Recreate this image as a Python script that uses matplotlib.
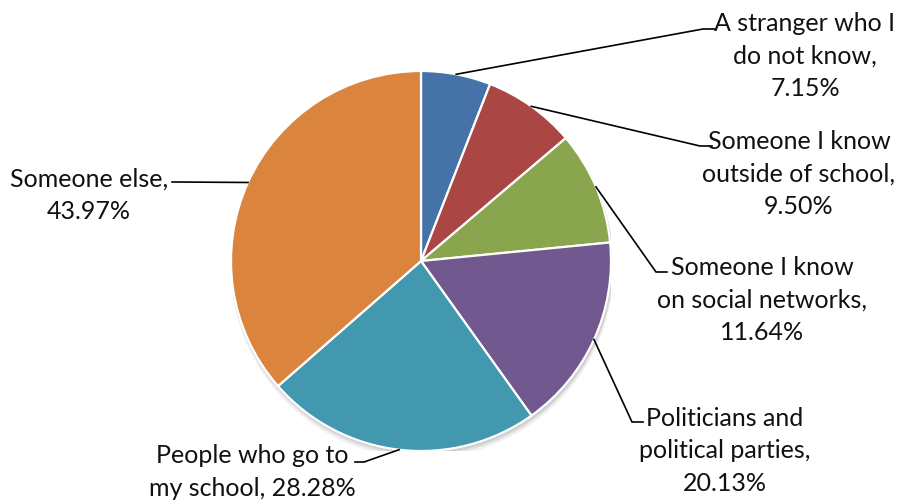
import matplotlib
matplotlib.use("Agg")
import numpy as np
import matplotlib.pyplot as plt
from matplotlib.patches import Circle

# Who the respondents talk to (shares as reported)
categories = [
    "A stranger who I\ndo not know",
    "Someone I know\noutside of school",
    "Someone I know\non social networks",
    "Politicians and\npolitical parties",
    "People who go to\nmy school",
    "Someone else",
]
values = [7.15, 9.50, 11.64, 20.13, 28.28, 43.97]
colors = ["#4572A7", "#AA4643", "#89A54E", "#71588F", "#4198AF", "#DB843D"]

# separator between category and value in each label
separators = [",\n", ",\n", ",\n", ",\n", ", ", ",\n"]

W, H, DPI = 900, 502, 100
CX, CY, R = 421, 262, 190   # pie centre and radius in pixels

# label layout in pixels: leader elbow, leader end, text centre
label_layout = [
    ((703, 30), (715, 30), (805, 56)),
    ((700, 147), (712, 147), (799, 174)),
    ((656, 273), (667, 273), (762, 300)),
    ((632, 423), (643, 423), (725, 451)),
    ((364, 463), (355, 463), (252, 472)),
    ((176, 183), (172, 183), (89, 195)),
]

plt.rcParams["font.family"] = ["Lato", "DejaVu Sans"]

fig = plt.figure(figsize=(W / DPI, H / DPI), dpi=DPI)
ax = fig.add_axes([(CX - R) / W, (H - CY - R) / H, 2 * R / W, 2 * R / H])


def to_data(p):
    x, y = p
    return ((x - CX) / R, (CY - y) / R)


# soft shadow under the pie
for dy, a in [(0.030, 0.10), (0.020, 0.14), (0.012, 0.18)]:
    ax.add_patch(Circle((0.006, -dy), 1.0 + dy * 0.3, color="#7f7f7f",
                        alpha=a, lw=0, zorder=0))

wedges, _ = ax.pie(
    values,
    colors=colors,
    startangle=90,
    counterclock=False,
    radius=1.0,
    wedgeprops=dict(edgecolor="white", linewidth=1.6),
)
for w in wedges:
    w.set_zorder(2)

# pie() resets the limits, so fix the frame afterwards
ax.set_xlim(-1, 1)
ax.set_ylim(-1, 1)
ax.set_aspect("equal")
ax.axis("off")

for w, cat, val, sep, (elbow, end, tc) in zip(
        wedges, categories, values, separators, label_layout):
    mid = np.deg2rad((w.theta1 + w.theta2) / 2)
    start = (np.cos(mid), np.sin(mid))
    e = to_data(elbow)
    f = to_data(end)
    ax.plot([start[0], e[0], f[0]], [start[1], e[1], f[1]],
            color="black", lw=1.2, zorder=3, clip_on=False,
            solid_joinstyle="miter")
    t = to_data(tc)
    ax.text(t[0], t[1], f"{cat}{sep}{val:.2f}%", ha="center", va="center",
            multialignment="center", fontsize=18, color="#111111",
            linespacing=1.49, zorder=4, clip_on=False)

fig.savefig("out.png", dpi=DPI, facecolor="white")
